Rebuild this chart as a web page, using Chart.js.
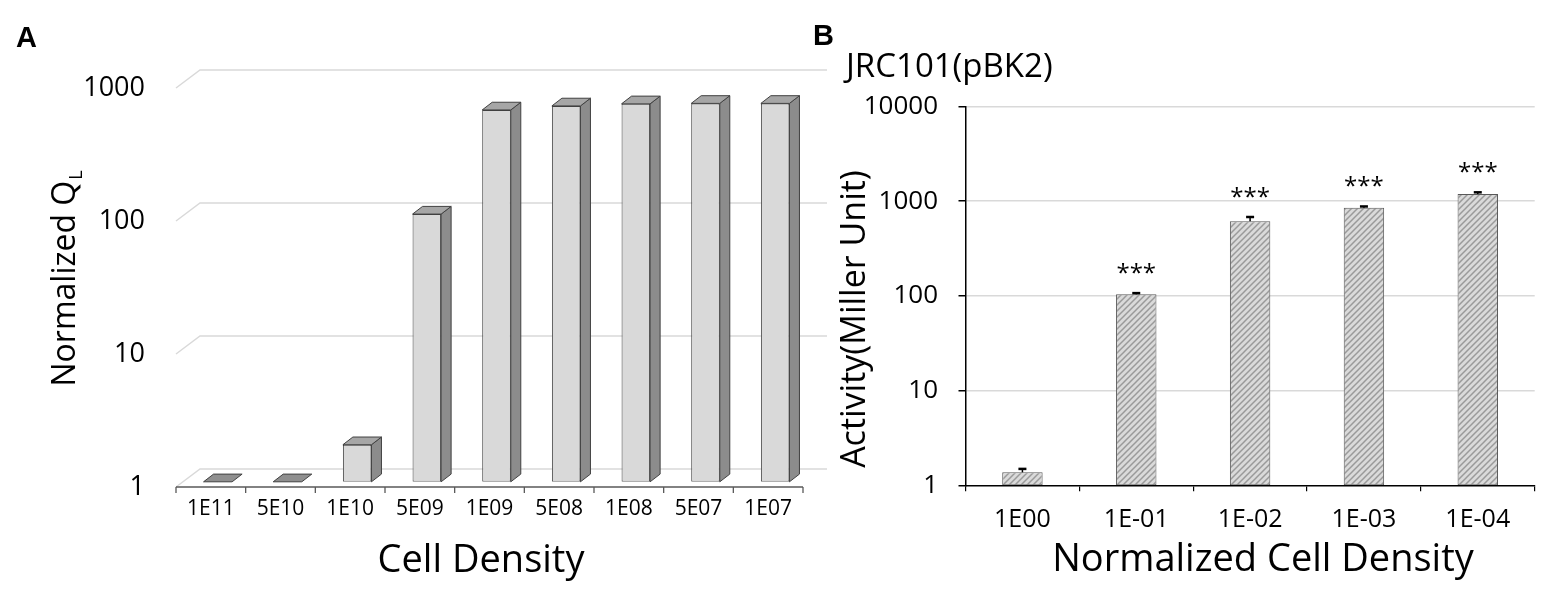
<!DOCTYPE html>
<html>
<head>
<meta charset="utf-8">
<script src="https://cdn.jsdelivr.net/npm/chart.js@4.4.1/dist/chart.umd.min.js"></script>
<style>
  html, body { margin: 0; padding: 0; background: #fff; }
  #wrap { position: relative; width: 1562px; height: 604px; }
  #wrap canvas { position: absolute; left: 0; top: 0; }
</style>
</head>
<body>
<div id="wrap">
  <canvas id="chartA" width="1562" height="604"></canvas>
  <canvas id="chartB" width="1562" height="604"></canvas>
</div>
<script>
// panel A
const catA = ['1E11', '5E10', '1E10', '5E09', '1E09', '5E08', '1E08', '5E07', '1E07'];
const valA = [1, 1, 1.9, 103, 625, 670, 695, 700, 700];
const yTicksA = [1, 10, 100, 1000];

// panel B
const catB = ['1E00', '1E-01', '1E-02', '1E-03', '1E-04'];
const valB = [1.37, 104, 614, 854, 1191];
const errB = [0.12, 3, 67, 26, 50];
const sigB = ['', '***', '***', '***', '***'];
const yTicksB = [1, 10, 100, 1000, 10000];

const FONT = "'Open Sans', sans-serif";
Chart.defaults.font.family = FONT;
Chart.defaults.color = '#000';

// 3d look for panel A: chart area is the plane of the bar fronts
const FACE = { x: 7, y: -5.2 };   // floor front edge -> bar front face
const DEPTH = { x: 24, y: -18 };  // floor front edge -> back wall
const SIDE = { x: 10, y: -7.7 };  // bar thickness

function poly(ctx, pts) {
  ctx.beginPath();
  ctx.moveTo(pts[0][0], pts[0][1]);
  for (let i = 1; i < pts.length; i++) ctx.lineTo(pts[i][0], pts[i][1]);
  ctx.closePath();
  ctx.fill();
  ctx.stroke();
}

const floor3d = {
  id: 'floor3d',
  beforeDatasetsDraw(chart) {
    const { ctx, chartArea: a, scales: { x, y } } = chart;
    const x0 = a.left - FACE.x;
    const x1 = a.right - FACE.x;
    ctx.save();
    ctx.strokeStyle = '#d9d9d9';
    ctx.lineWidth = 1.5;
    y.ticks.forEach(t => {
      const py = y.getPixelForValue(t.value) - FACE.y;
      ctx.beginPath();
      ctx.moveTo(x0, py);
      ctx.lineTo(x0 + DEPTH.x, py + DEPTH.y);
      ctx.lineTo(x1 + DEPTH.x, py + DEPTH.y);
      ctx.stroke();
    });
    // front edge of the floor with category ticks
    const yf = a.bottom - FACE.y;
    const step = x.getPixelForValue(1) - x.getPixelForValue(0);
    ctx.strokeStyle = '#595959';
    ctx.lineWidth = 1.3;
    ctx.beginPath();
    ctx.moveTo(x0, yf);
    ctx.lineTo(x1, yf);
    for (let i = 0; i <= catA.length; i++) {
      const px = x.getPixelForValue(0) - step / 2 - FACE.x + i * step;
      ctx.moveTo(px, yf);
      ctx.lineTo(px, yf + 6);
    }
    ctx.stroke();
    ctx.restore();
  },
  afterDatasetsDraw(chart) {
    const { ctx } = chart;
    ctx.save();
    ctx.strokeStyle = '#404040';
    ctx.lineWidth = 1;
    ctx.lineJoin = 'round';
    chart.getDatasetMeta(0).data.forEach(bar => {
      const { x: cx, y: top, base, width } = bar.getProps(['x', 'y', 'base', 'width'], true);
      const l = cx - width / 2, r = cx + width / 2;
      if (base - top > 0.5) {
        ctx.fillStyle = '#8c8c8c';
        poly(ctx, [[r, top], [r + SIDE.x, top + SIDE.y], [r + SIDE.x, base + SIDE.y], [r, base]]);
        ctx.fillStyle = '#a6a6a6';
      } else {
        ctx.fillStyle = '#8f8f8f';
      }
      poly(ctx, [[l, top], [l + SIDE.x, top + SIDE.y], [r + SIDE.x, top + SIDE.y], [r, top]]);
    });
    ctx.restore();
  }
};

const titlesA = {
  id: 'titlesA',
  afterDraw(chart) {
    const { ctx } = chart;
    ctx.save();
    ctx.fillStyle = '#000';
    ctx.textBaseline = 'alphabetic';
    ctx.font = "bold 29px 'Liberation Sans', Arial, sans-serif";
    ctx.textAlign = 'left';
    ctx.fillText('A', 16, 46.5);
    ctx.font = '38px ' + FONT;
    ctx.textAlign = 'center';
    ctx.fillText('Cell Density', 481, 571.5);
    // rotated y title with subscript
    ctx.translate(75, 386.5);
    ctx.rotate(-Math.PI / 2);
    ctx.textAlign = 'left';
    ctx.font = '32px ' + FONT;
    const main = 'Normalized Q';
    ctx.fillText(main, 0, 0);
    const w = ctx.measureText(main).width;
    ctx.font = '18px ' + FONT;
    ctx.fillText('L', w + 1, 7);
    ctx.restore();
  }
};

new Chart(document.getElementById('chartA'), {
  type: 'bar',
  data: {
    labels: catA,
    datasets: [{
      data: valA,
      backgroundColor: '#d9d9d9',
      borderColor: '#404040',
      borderWidth: 1,
      borderSkipped: false,
      barPercentage: 0.41,
      categoryPercentage: 1
    }]
  },
  options: {
    responsive: false,
    animation: false,
    layout: { autoPadding: false, padding: { left: 0, right: 752, top: 82.8, bottom: 0 } },
    plugins: { legend: { display: false }, tooltip: { enabled: false } },
    scales: {
      x: {
        grid: { display: false, drawTicks: false },
        border: { display: false },
        ticks: { font: { size: 21 }, padding: 15, labelOffset: -FACE.x, maxRotation: 0, autoSkip: false },
        afterFit: s => { s.height = 604 - 481.8; }
      },
      y: {
        type: 'logarithmic',
        min: 1,
        max: 1000,
        grid: { display: false, drawTicks: false },
        border: { display: false },
        afterBuildTicks: s => { s.ticks = yTicksA.map(v => ({ value: v })); },
        ticks: { font: { size: 27 }, padding: 38, labelOffset: 6, callback: v => String(v) },
        afterFit: s => { s.width = 183; }
      }
    }
  },
  plugins: [floor3d, titlesA]
});

// hatch fill for panel B
function hatch() {
  const c = document.createElement('canvas');
  c.width = 6;
  c.height = 6;
  const g = c.getContext('2d');
  g.fillStyle = '#dadada';
  g.fillRect(0, 0, 6, 6);
  g.strokeStyle = '#9a9a9a';
  g.lineWidth = 1.5;
  g.beginPath();
  g.moveTo(0, 6); g.lineTo(6, 0);
  g.moveTo(-1, 1); g.lineTo(1, -1);
  g.moveTo(5, 7); g.lineTo(7, 5);
  g.stroke();
  return g.createPattern(c, 'repeat');
}

const errorStars = {
  id: 'errorStars',
  afterDatasetsDraw(chart) {
    const { ctx, scales: { y } } = chart;
    ctx.save();
    ctx.strokeStyle = '#000';
    ctx.fillStyle = '#000';
    chart.getDatasetMeta(0).data.forEach((bar, i) => {
      const { x: cx, y: top } = bar.getProps(['x', 'y'], true);
      const yt = y.getPixelForValue(valB[i] + errB[i]);
      ctx.lineWidth = 1.5;
      ctx.beginPath();
      ctx.moveTo(cx, top);
      ctx.lineTo(cx, yt);
      ctx.stroke();
      ctx.lineWidth = 2.5;
      ctx.beginPath();
      ctx.moveTo(cx - 4, yt);
      ctx.lineTo(cx + 4, yt);
      ctx.stroke();
      if (sigB[i]) {
        ctx.font = '24px ' + FONT;
        ctx.textAlign = 'center';
        ctx.textBaseline = 'alphabetic';
        ctx.fillText(sigB[i], cx, yt - 26 + 13.5);
      }
    });
    ctx.restore();
  }
};

const titlesB = {
  id: 'titlesB',
  afterDraw(chart) {
    const { ctx } = chart;
    ctx.save();
    ctx.fillStyle = '#000';
    ctx.textBaseline = 'alphabetic';
    ctx.font = "bold 29px 'Liberation Sans', Arial, sans-serif";
    ctx.textAlign = 'left';
    ctx.fillText('B', 813, 45);
    ctx.font = '33px ' + FONT;
    ctx.fillText('JRC101(pBK2)', 846, 77);
    ctx.font = '38px ' + FONT;
    ctx.textAlign = 'center';
    ctx.fillText('Normalized Cell Density', 1263, 571);
    ctx.translate(865, 319);
    ctx.rotate(-Math.PI / 2);
    ctx.font = '34px ' + FONT;
    ctx.fillText('Activity(Miller Unit)', 0, 0);
    ctx.restore();
  }
};

new Chart(document.getElementById('chartB'), {
  type: 'bar',
  data: {
    labels: catB,
    datasets: [{
      data: valB,
      backgroundColor: hatch(),
      borderColor: '#595959',
      borderWidth: 1,
      borderSkipped: false,
      barPercentage: 0.355,
      categoryPercentage: 1
    }]
  },
  options: {
    responsive: false,
    animation: false,
    layout: { autoPadding: false, padding: { left: 0, right: 27.3, top: 106.5, bottom: 0 } },
    plugins: { legend: { display: false }, tooltip: { enabled: false } },
    scales: {
      x: {
        grid: { display: true, drawOnChartArea: false, drawTicks: true, tickLength: 6, color: '#000', lineWidth: 1.2, offset: true },
        border: { display: true, color: '#000', width: 1.5 },
        ticks: { font: { size: 25 }, padding: 14, maxRotation: 0, autoSkip: false },
        afterFit: s => { s.height = 604 - 485.3; }
      },
      y: {
        type: 'logarithmic',
        min: 1,
        max: 10000,
        grid: {
          color: c => (c.tick && c.tick.value === 1 ? 'rgba(0,0,0,0)' : '#d9d9d9'),
          lineWidth: 1.5,
          tickColor: '#000',
          tickLength: 7,
          drawTicks: true
        },
        border: { display: true, color: '#000', width: 1.5 },
        afterBuildTicks: s => { s.ticks = yTicksB.map(v => ({ value: v })); },
        ticks: { font: { size: 26 }, padding: 20.5, callback: v => String(v) },
        afterFit: s => { s.width = 965.5; }
      }
    }
  },
  plugins: [errorStars, titlesB]
});
</script>
</body>
</html>
